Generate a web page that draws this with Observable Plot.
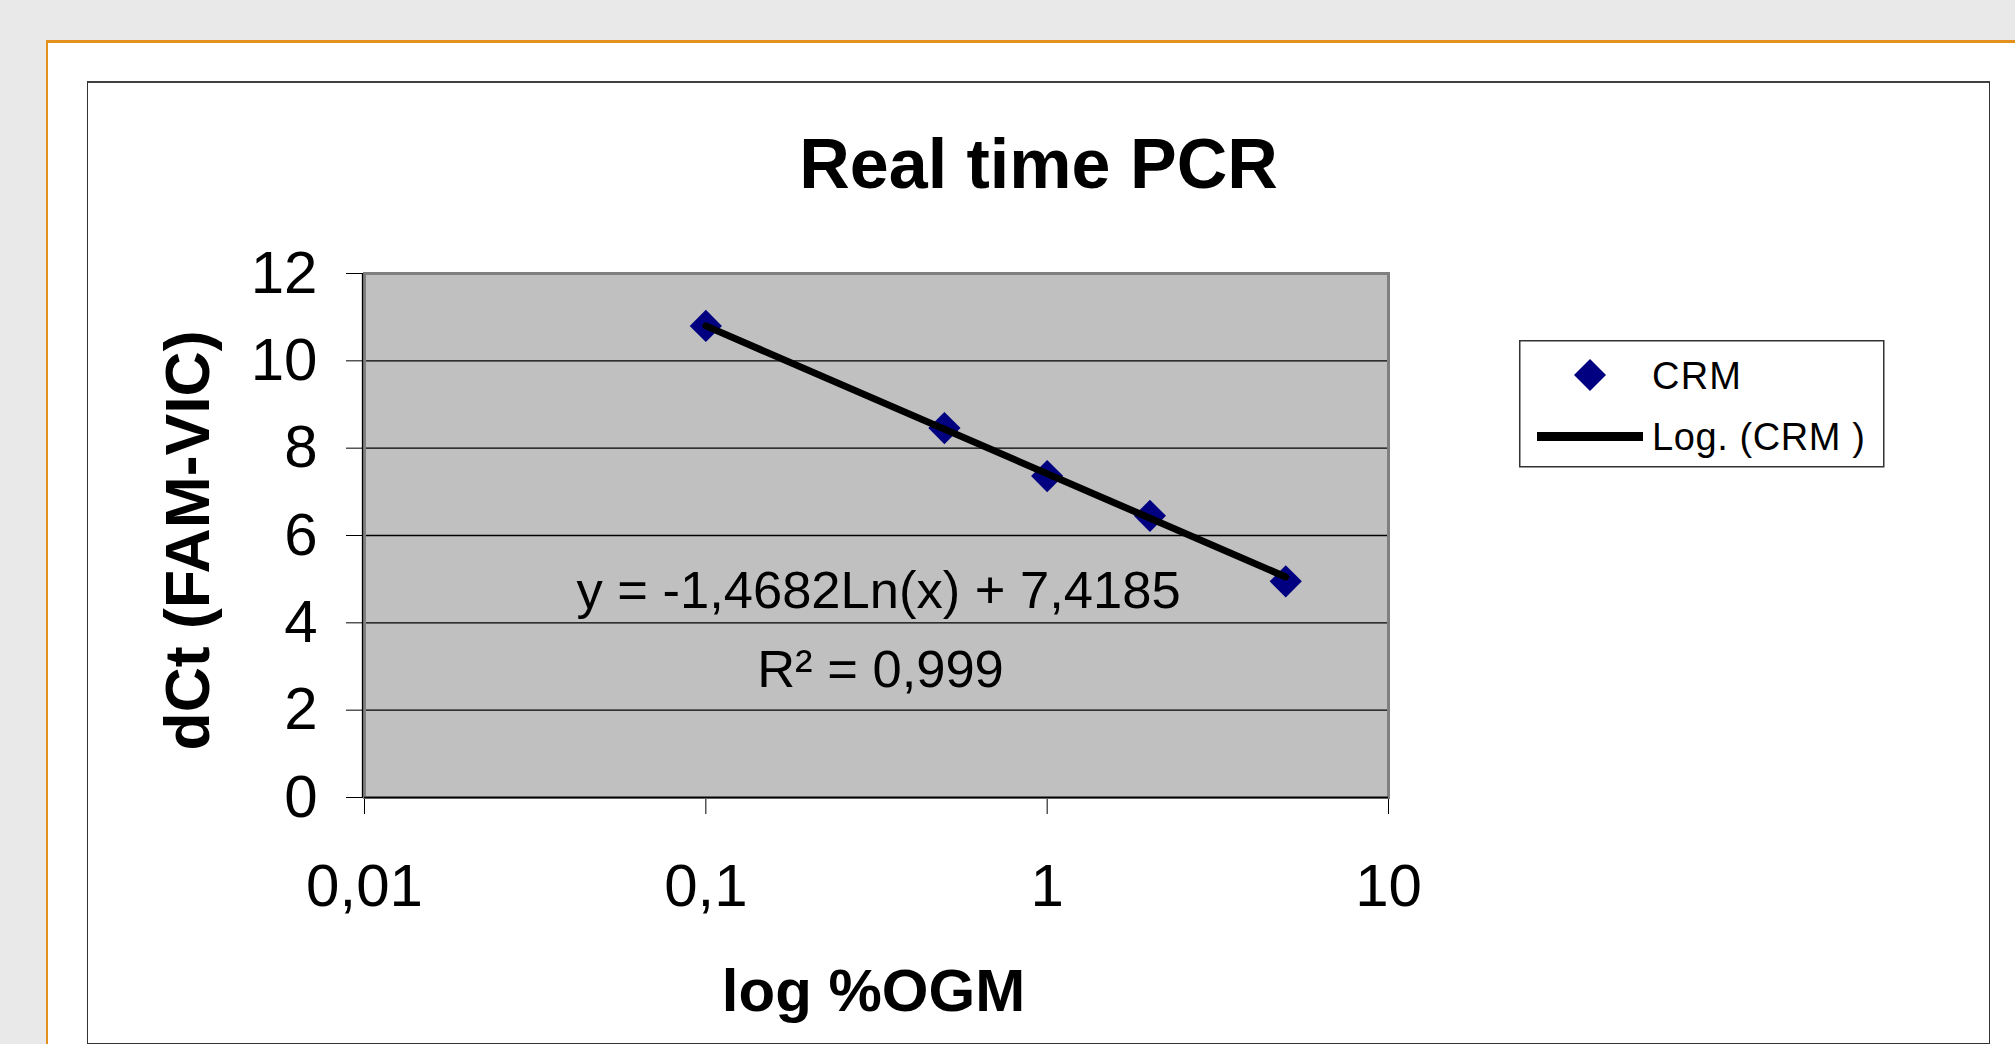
<!DOCTYPE html>
<html>
<head>
<meta charset="utf-8">
<script src="https://cdn.jsdelivr.net/npm/d3@7"></script>
<script src="https://cdn.jsdelivr.net/npm/@observablehq/plot@0.6"></script>
<style>
  html, body { margin: 0; padding: 0; }
  body { width: 2015px; height: 1044px; background: #e9e9e9; position: relative; overflow: hidden; font-family: "Liberation Sans", Arial, sans-serif; }
  #slide { position: absolute; left: 46px; top: 40px; width: 2000px; height: 1100px; background: #fff; border-top: 3px solid #e3901d; border-left: 2px solid #e3901d; box-sizing: border-box; }
  #frame { position: absolute; left: 87px; top: 81px; width: 1903px; height: 963px; border: 1.5px solid #333; border-top: 2px solid #404040; box-sizing: border-box; background: #fff; }
  #title { position: absolute; left: 87px; width: 1903px; top: 129px; text-align: center; font-weight: bold; font-size: 70px; line-height: 70px; color: #000; }
  #chart { position: absolute; left: 88px; top: 82px; }
  #legend { position: absolute; left: 1519px; top: 340px; }
</style>
</head>
<body>
<div id="slide"></div>
<div id="frame"></div>
<div id="title">Real time PCR</div>
<div id="chart"></div>
<div id="legend"></div>
<script>
// ---- data ----
const pctOGM = [0.1, 0.5, 1, 2, 5];
const dCt = [10.8, 8.46, 7.36, 6.45, 4.95];
const trendX = [0.1, 5];
const trendY = [10.80, 5.05];
const xTicks = [0.01, 0.1, 1, 10];
const yTicks = [0, 2, 4, 6, 8, 10, 12];
const seriesName = "CRM";
const trendName = "Log. (CRM )";
const equation = "y = -1,4682Ln(x) + 7,4185";
const rSquared = "R\u00B2 = 0,999";
const xTitle = "log %OGM";
const yTitle = "dCt (FAM-VIC)";

const points = pctOGM.map((x, i) => ({x, y: dCt[i]}));
const trend = trendX.map((x, i) => ({x, y: trendY[i]}));
const fmt = d => String(d).replace(".", ",");

const chart = Plot.plot({
  width: 1900,
  height: 960,
  marginLeft: 276,
  marginRight: 600,
  marginTop: 191,
  marginBottom: 245,
  style: {fontFamily: "'Liberation Sans', Arial, sans-serif", fontSize: "60px", color: "#000", background: "transparent", overflow: "visible"},
  x: {type: "log", domain: [0.01, 10], ticks: xTicks, tickFormat: fmt, tickSize: 17, tickPadding: 49, label: null},
  y: {domain: [0, 12], ticks: yTicks, tickSize: 18, tickPadding: 29, label: null},
  marks: [
    Plot.frame({fill: "#c0c0c0"}),
    Plot.ruleY(yTicks.slice(1, -1), {stroke: "#000", strokeWidth: 1.3}),
    Plot.frame({stroke: "#808080", strokeWidth: 3}),
    Plot.ruleY([0], {stroke: "#000", strokeWidth: 1.3}),
    Plot.ruleX([0.01], {stroke: "#000", strokeWidth: 1.3, dx: -2}),
    Plot.dot(points, {x: "x", y: "y", symbol: "diamond2", r: 14.5, fill: "#000080", stroke: "none"}),
    Plot.line(trend, {x: "x", y: "y", stroke: "#000", strokeWidth: 7}),
    Plot.text([equation], {text: d => d, frameAnchor: "middle", lineAnchor: "middle", textAnchor: "middle", dy: 56, dx: 2, fontSize: 52.5}),
    Plot.text([rSquared], {text: d => d, frameAnchor: "middle", lineAnchor: "middle", textAnchor: "middle", dy: 135, dx: 4, fontSize: 52.5}),
    Plot.text([xTitle], {text: d => d, frameAnchor: "bottom", lineAnchor: "middle", textAnchor: "middle", dy: 194, dx: -3, fontSize: 60, fontWeight: "bold"}),
    Plot.text([yTitle], {text: d => d, frameAnchor: "left", lineAnchor: "middle", textAnchor: "middle", rotate: -90, dx: -176, dy: 5, fontSize: 62.5, fontWeight: "bold"})
  ]
});
document.getElementById("chart").appendChild(chart);

// ---- legend ----
const ns = "http://www.w3.org/2000/svg";
const lg = document.createElementNS(ns, "svg");
lg.setAttribute("width", 366);
lg.setAttribute("height", 128);
lg.innerHTML = `
  <rect x="0.75" y="0.75" width="364" height="126" fill="#fff" stroke="#333" stroke-width="1.5"/>
  <polygon points="71,19 87,35 71,51 55,35" fill="#000080"/>
  <rect x="18" y="92" width="106" height="9" fill="#000"/>
  <text x="133" y="49" font-family="'Liberation Sans', Arial, sans-serif" font-size="38" letter-spacing="1.2" fill="#000">${seriesName}</text>
  <text x="133" y="110" font-family="'Liberation Sans', Arial, sans-serif" font-size="38" letter-spacing="0.6" fill="#000">${trendName}</text>
`;
document.getElementById("legend").appendChild(lg);
</script>
</body>
</html>
